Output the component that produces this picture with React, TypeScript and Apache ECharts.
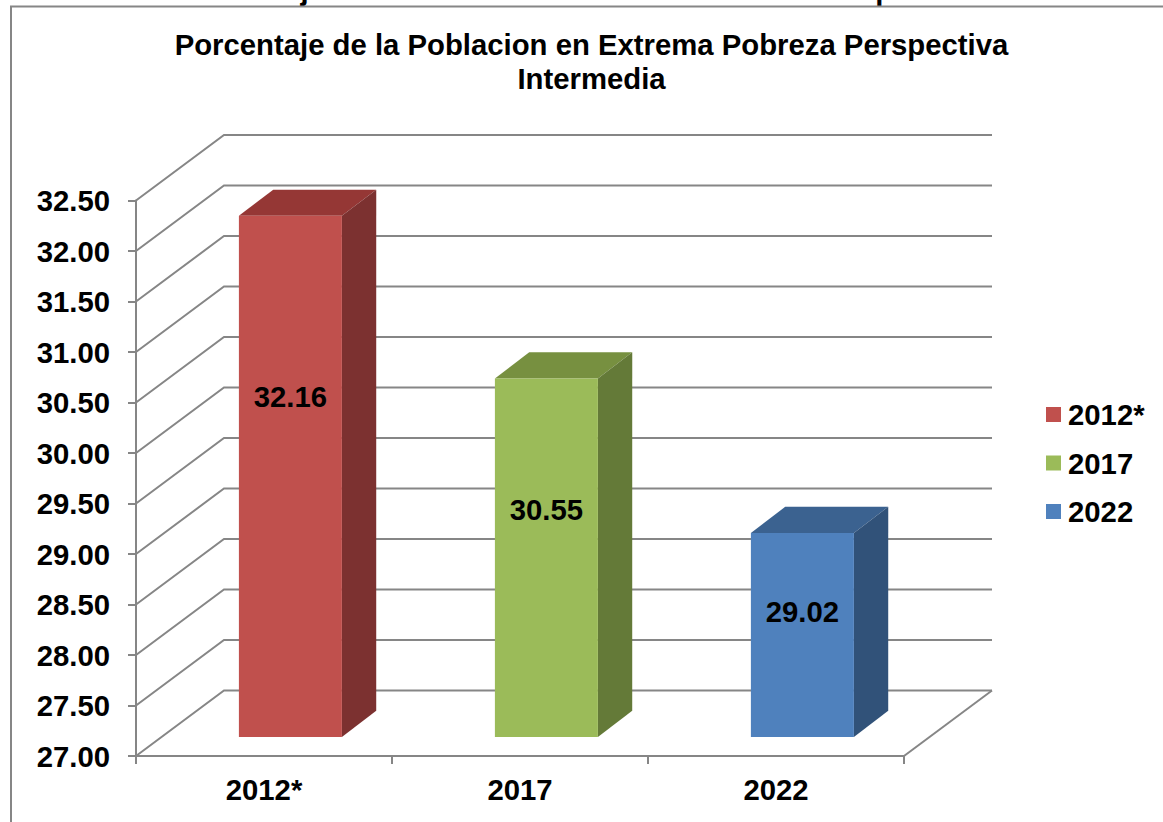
import React, { useEffect, useRef } from "react";
import * as echarts from "echarts";

const chartTitle = "Porcentaje de la Poblacion en Extrema Pobreza Perspectiva\nIntermedia";
const headingText = "Gráfico 1.- Porcentaje de Población en Extrema Pobreza Perspectiva Intermedia";
const categories = ["2012*", "2017", "2022"];
const seriesNames = ["2012*", "2017", "2022"];
const values = [32.16, 30.55, 29.02];
const gridLevels = [27, 27.5, 28, 28.5, 29, 29.5, 30, 30.5, 31, 31.5, 32, 32.5];
const yMin = 27;
const yMax = 32.5;
const yStep = 0.5;

const frontColors = ["#c0504d", "#9bbb59", "#4f81bd"];
const topColors = ["#953735", "#779040", "#3b6290"];
const sideColors = ["#7c3130", "#647a38", "#315279"];
const labelHeights = [30.37, 29.25, 28.24];

const FONT = "'Liberation Sans', Arial, sans-serif";
const GRAY = "#868686";
const DEPTH_X = 88;
const DEPTH_Y = 65.5;
const BAR_NEAR_X = 0.3;
const BAR_NEAR_Y = 0.29;
const BAR_FAR = 0.69;
const BAR_WIDTH = 103;
const FS = 29.3;

function wallItem(params: any, api: any) {
  const cs = params.coordSys;
  const y = api.coord([0, api.value(0)])[1];
  const x0 = cs.x;
  const x1 = cs.x + cs.width;
  const children: any[] = [
    {
      type: "polyline",
      shape: { points: [[x0, y], [x0 + DEPTH_X, y - DEPTH_Y], [x1 + DEPTH_X, y - DEPTH_Y]] },
      style: { fill: "none", stroke: GRAY, lineWidth: 2 },
    },
  ];
  if (api.value(0) === yMin) {
    children.push({
      type: "line",
      shape: { x1, y1: y, x2: x1 + DEPTH_X, y2: y - DEPTH_Y },
      style: { stroke: GRAY, lineWidth: 2 },
    });
  }
  return { type: "group", children };
}

function barItem(index: number) {
  return (_params: any, api: any) => {
    const cat = api.value(0);
    const val = api.value(1);
    const [cx, yTop0] = api.coord([cat, val]);
    const [, yBase0] = api.coord([cat, yMin]);
    const [, yLabel0] = api.coord([cat, labelHeights[index]]);
    const nx = DEPTH_X * BAR_NEAR_X;
    const ny = DEPTH_Y * BAR_NEAR_Y;
    const fx = DEPTH_X * (BAR_FAR - BAR_NEAR_X);
    const fy = DEPTH_Y * (BAR_FAR - BAR_NEAR_Y);
    const l = cx + nx - BAR_WIDTH / 2;
    const r = l + BAR_WIDTH;
    const t = yTop0 - ny;
    const b = yBase0 - ny;
    return {
      type: "group",
      children: [
        {
          type: "polygon",
          shape: { points: [[l, t], [l + fx, t - fy], [r + fx, t - fy], [r, t]] },
          style: { fill: topColors[index] },
        },
        {
          type: "polygon",
          shape: { points: [[r, t], [r + fx, t - fy], [r + fx, b - fy], [r, b]] },
          style: { fill: sideColors[index] },
        },
        {
          type: "rect",
          shape: { x: l, y: t, width: BAR_WIDTH, height: b - t },
          style: { fill: frontColors[index] },
        },
        {
          type: "text",
          x: (l + r) / 2,
          y: yLabel0 - ny,
          style: {
            text: val.toFixed(2),
            align: "center",
            verticalAlign: "middle",
            font: `bold ${FS}px ${FONT}`,
            fill: "#000",
          },
        },
      ],
    };
  };
}

export default function App() {
  const ref = useRef<HTMLDivElement>(null);
  useEffect(() => {
    const chart = echarts.init(ref.current!, null, { renderer: "svg" });
    chart.setOption({
      animation: false,
      backgroundColor: "#fff",
      title: {
        text: chartTitle,
        left: 586.5,
        top: 22,
        textAlign: "center",
        textStyle: { fontFamily: FONT, fontSize: FS, fontWeight: "bold", color: "#000", lineHeight: 34 },
      },
      graphic: [
        {
          type: "text",
          x: 22,
          y: 4,
          silent: true,
          style: {
            text: headingText,
            verticalAlign: "bottom",
            font: `bold ${FS}px ${FONT}`,
            fill: "#000",
          },
        },
        {
          type: "polyline",
          shape: { points: [[11, 822], [11, 6.5], [1163, 6.5]] },
          style: { fill: "none", stroke: GRAY, lineWidth: 2 },
          silent: true,
        },
      ],
      legend: {
        data: seriesNames,
        orient: "vertical",
        left: 1041,
        top: 395,
        itemWidth: 15,
        itemHeight: 15,
        itemGap: 19.5,
        icon: "rect",
        selectedMode: false,
        textStyle: { fontFamily: FONT, fontSize: FS, fontWeight: "bold", color: "#000", lineHeight: 28, padding: [0, 0, 0, 2] },
      },
      grid: { left: 136, top: 200.5, width: 768, height: 555.5, containLabel: false },
      xAxis: {
        type: "category",
        data: categories,
        axisLine: { lineStyle: { color: GRAY, width: 2 } },
        axisTick: { show: true, length: 8, lineStyle: { color: GRAY, width: 2 } },
        axisLabel: { fontFamily: FONT, fontSize: FS, fontWeight: "bold", color: "#000", margin: 19 },
      },
      yAxis: {
        type: "value",
        min: yMin,
        max: yMax,
        interval: yStep,
        splitLine: { show: false },
        axisLine: { show: true, lineStyle: { color: GRAY, width: 2 } },
        axisTick: { show: true, length: 8, lineStyle: { color: GRAY, width: 2 } },
        axisLabel: {
          fontFamily: FONT,
          fontSize: FS,
          fontWeight: "bold",
          color: "#000",
          margin: 26,
          formatter: (v: number) => v.toFixed(2),
        },
      },
      series: [
        {
          name: "walls",
          type: "custom",
          clip: false,
          z: 1,
          silent: true,
          renderItem: wallItem,
          encode: { y: 0 },
          data: gridLevels.map((v) => [v]),
        },
        ...seriesNames.map((name, i) => ({
          name,
          type: "custom",
          clip: false,
          z: 2,
          silent: true,
          itemStyle: { color: frontColors[i] },
          renderItem: barItem(i),
          encode: { x: 0, y: 1 },
          data: [[i, values[i]]],
        })),
      ],
    });
    return () => chart.dispose();
  }, []);
  return <div ref={ref} style={{ position: "absolute", left: 0, top: 0, width: 1163, height: 822 }} />;
}
